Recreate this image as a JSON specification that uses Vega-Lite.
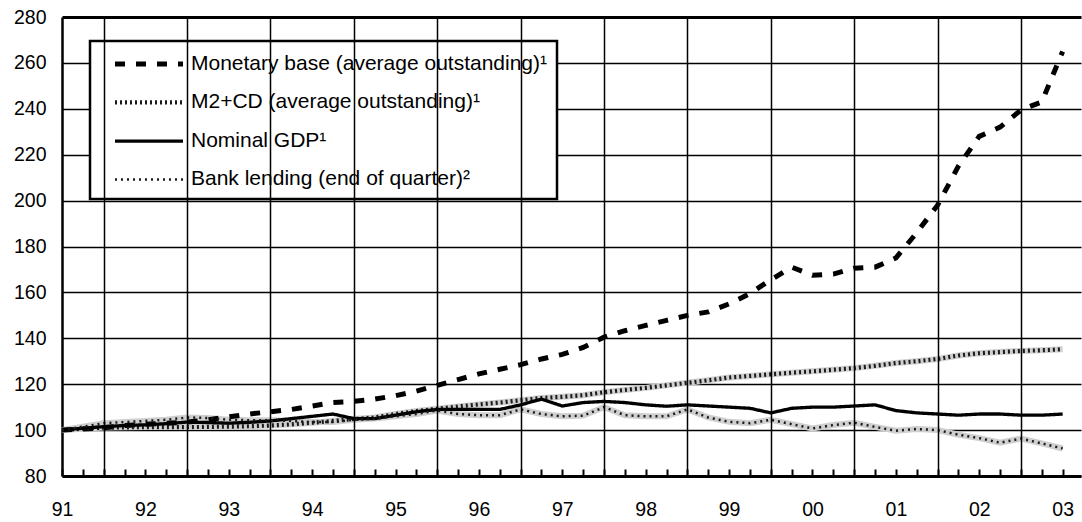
{
  "$schema": "https://vega.github.io/schema/vega-lite/v6.json",
  "width": 1019,
  "height": 459,
  "autosize": {"type": "none"},
  "padding": {"left": 62, "top": 17, "right": 1, "bottom": 46},
  "background": "white",
  "config": {
    "view": {"stroke": null},
    "font": "Liberation Sans",
    "axis": {"labelFont": "Liberation Sans", "labelFontSize": 19.5, "labelColor": "black", "title": null},
    "axisX": {"ticks": true, "tickColor": "black", "tickWidth": 2, "tickSize": -7, "tickOpacity": 1}
  },
  "data": {
    "values": [
      {"q": 0, "mb": 100, "m2": 100, "gdp": 100, "bl": 100},
      {"q": 1, "mb": 100.5, "m2": 100.6, "gdp": 100.8, "bl": 101.5},
      {"q": 2, "mb": 101, "m2": 101.1, "gdp": 101.5, "bl": 103},
      {"q": 3, "mb": 102, "m2": 101.2, "gdp": 102, "bl": 103.5},
      {"q": 4, "mb": 102.5, "m2": 101.3, "gdp": 102.3, "bl": 104},
      {"q": 5, "mb": 103, "m2": 101.3, "gdp": 102.8, "bl": 104.5},
      {"q": 6, "mb": 103.5, "m2": 101.3, "gdp": 103.5, "bl": 105.5},
      {"q": 7, "mb": 104.5, "m2": 101.4, "gdp": 103.3, "bl": 105.3},
      {"q": 8, "mb": 105.8, "m2": 101.5, "gdp": 103, "bl": 104.5},
      {"q": 9, "mb": 107, "m2": 101.7, "gdp": 103.4, "bl": 104.3},
      {"q": 10, "mb": 108, "m2": 102, "gdp": 104, "bl": 104.3},
      {"q": 11, "mb": 109, "m2": 102.5, "gdp": 105, "bl": 104},
      {"q": 12, "mb": 110.5, "m2": 103.2, "gdp": 106, "bl": 103.5},
      {"q": 13, "mb": 112, "m2": 104, "gdp": 107, "bl": 103.5},
      {"q": 14, "mb": 112.5, "m2": 104.8, "gdp": 105, "bl": 104.5},
      {"q": 15, "mb": 113.5, "m2": 105.5, "gdp": 105, "bl": 105},
      {"q": 16, "mb": 115, "m2": 107, "gdp": 106.5, "bl": 106},
      {"q": 17, "mb": 117, "m2": 108.3, "gdp": 108, "bl": 107},
      {"q": 18, "mb": 119.5, "m2": 109.3, "gdp": 109, "bl": 108.5},
      {"q": 19, "mb": 122, "m2": 110.3, "gdp": 109, "bl": 107},
      {"q": 20, "mb": 124.5, "m2": 111.2, "gdp": 109, "bl": 106.5},
      {"q": 21, "mb": 126.5, "m2": 112, "gdp": 109, "bl": 106.5},
      {"q": 22, "mb": 128.5, "m2": 113, "gdp": 111, "bl": 109},
      {"q": 23, "mb": 131, "m2": 114, "gdp": 113.5, "bl": 107},
      {"q": 24, "mb": 133, "m2": 114.5, "gdp": 110.5, "bl": 106},
      {"q": 25, "mb": 136, "m2": 115.2, "gdp": 112, "bl": 106.3},
      {"q": 26, "mb": 140.5, "m2": 116.5, "gdp": 112.5, "bl": 110},
      {"q": 27, "mb": 143.3, "m2": 117.5, "gdp": 112, "bl": 106.5},
      {"q": 28, "mb": 145.6, "m2": 118.4, "gdp": 111, "bl": 106},
      {"q": 29, "mb": 147.8, "m2": 119.5, "gdp": 110.4, "bl": 106},
      {"q": 30, "mb": 150, "m2": 120.6, "gdp": 111, "bl": 109},
      {"q": 31, "mb": 151.5, "m2": 121.7, "gdp": 110.5, "bl": 105.5},
      {"q": 32, "mb": 155, "m2": 122.9, "gdp": 110, "bl": 103.6},
      {"q": 33, "mb": 159.5, "m2": 123.6, "gdp": 109.5, "bl": 103},
      {"q": 34, "mb": 165.5, "m2": 124.3, "gdp": 107.5, "bl": 104.5},
      {"q": 35, "mb": 171, "m2": 125, "gdp": 109.5, "bl": 102.6},
      {"q": 36, "mb": 167.5, "m2": 125.6, "gdp": 110, "bl": 100.7},
      {"q": 37, "mb": 168, "m2": 126.3, "gdp": 110, "bl": 102.2},
      {"q": 38, "mb": 170.5, "m2": 127, "gdp": 110.5, "bl": 103.2},
      {"q": 39, "mb": 171, "m2": 128, "gdp": 111, "bl": 101.4},
      {"q": 40, "mb": 175, "m2": 129.2, "gdp": 108.5, "bl": 99.7},
      {"q": 41, "mb": 186, "m2": 130, "gdp": 107.5, "bl": 100.5},
      {"q": 42, "mb": 198, "m2": 131, "gdp": 107, "bl": 100},
      {"q": 43, "mb": 215, "m2": 132.5, "gdp": 106.5, "bl": 98},
      {"q": 44, "mb": 228, "m2": 133.5, "gdp": 107, "bl": 96.5},
      {"q": 45, "mb": 232, "m2": 134, "gdp": 107, "bl": 94.5},
      {"q": 46, "mb": 239.5, "m2": 134.5, "gdp": 106.5, "bl": 96.3},
      {"q": 47, "mb": 243, "m2": 134.8, "gdp": 106.5, "bl": 94.2},
      {"q": 48, "mb": 265, "m2": 135.2, "gdp": 107, "bl": 92}
    ]
  },
  "transform": [{"fold": ["mb", "m2", "gdp", "bl"], "as": ["series", "v"]}],
  "encoding": {
    "x": {
      "field": "q",
      "type": "quantitative",
      "scale": {"domain": [0, 48.88], "nice": false, "zero": false},
      "axis": {
        "values": [0,1,2,3,4,5,6,7,8,9,10,11,12,13,14,15,16,17,18,19,20,21,22,23,24,25,26,27,28,29,30,31,32,33,34,35,36,37,38,39,40,41,42,43,44,45,46,47,48],
        "labelExpr": "datum.value % 4 === 0 ? ['91','92','93','94','95','96','97','98','99','00','01','02','03'][datum.value / 4] : ''",
        "labelPadding": 31,
        "labelAlign": "center",
        "labelOverlap": false,
        "labelFlush": false,
        "domainColor": "black",
        "domainWidth": 3,
        "zindex": 1,
        "grid": true,
        "gridColor": "black",
        "gridWidth": 1.5,
        "gridDash": {"condition": {"test": "datum.value % 4 === 2", "value": [1, 0]}, "value": [0, 30]}
      }
    },
    "y": {
      "field": "v",
      "type": "quantitative",
      "scale": {"domain": [80, 280], "nice": false, "zero": false},
      "axis": {
        "values": [80, 100, 120, 140, 160, 180, 200, 220, 240, 260, 280],
        "ticks": false,
        "labelPadding": 16,
        "domainColor": "black",
        "domainWidth": 2.5,
        "grid": true,
        "gridColor": "black",
        "gridWidth": {"condition": {"test": "datum.value === 280", "value": 3}, "value": 1.5}
      }
    }
  },
  "layer": [
    {
      "transform": [{"filter": "datum.series === 'm2' || datum.series === 'bl'"}],
      "mark": {"type": "line", "color": "#cfcfcf", "strokeWidth": 6},
      "encoding": {"detail": {"field": "series", "type": "nominal"}}
    },
    {
      "mark": {"type": "line"},
      "encoding": {
        "color": {
          "field": "series",
          "type": "nominal",
          "scale": {"domain": ["mb", "m2", "gdp", "bl"], "range": ["black", "#1a1a1a", "black", "#1a1a1a"]},
          "legend": {
            "title": null,
            "orient": "none",
            "legendX": 28,
            "legendY": 24,
            "direction": "vertical",
            "labelExpr": "{'mb': 'Monetary base (average outstanding)¹', 'm2': 'M2+CD (average outstanding)¹', 'gdp': 'Nominal GDP¹', 'bl': 'Bank lending (end of quarter)²'}[datum.value]",
            "labelFont": "Liberation Sans",
            "labelFontSize": 21,
            "labelColor": "black",
            "labelLimit": 600,
            "symbolType": "M-3,0H3",
            "symbolSize": 514,
            "symbolOffset": 36,
            "labelOffset": 28,
            "padding": 9,
            "rowPadding": 14.8,
            "strokeColor": "black",
            "fillColor": "white",
            "cornerRadius": 0,
            "encode": {"legend": {"update": {"strokeWidth": {"value": 2.5}}}}
          }
        },
        "strokeDash": {
          "field": "series",
          "type": "nominal",
          "scale": {"domain": ["mb", "m2", "gdp", "bl"], "range": [[10, 11], [2, 3], [1, 0], [2, 4]]}
        },
        "strokeWidth": {
          "field": "series",
          "type": "nominal",
          "scale": {"domain": ["mb", "m2", "gdp", "bl"], "range": [5, 2.5, 5, 2]}
        }
      }
    }
  ]
}
